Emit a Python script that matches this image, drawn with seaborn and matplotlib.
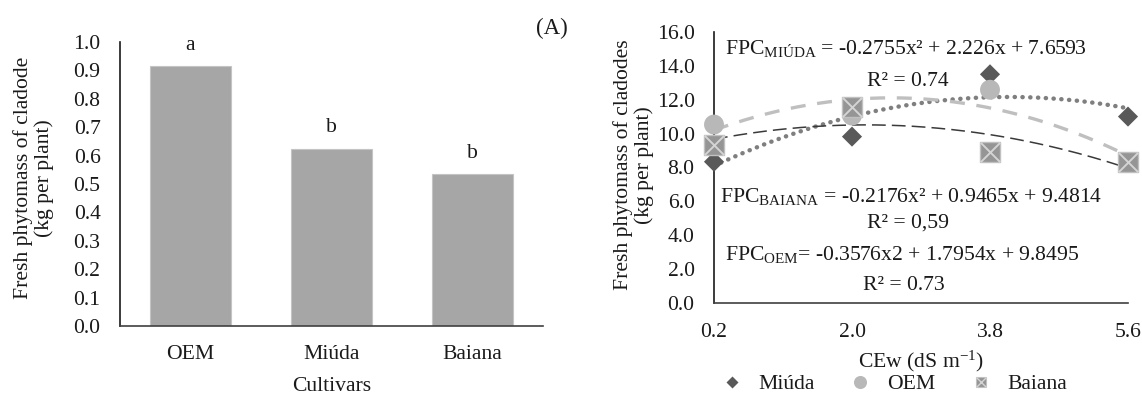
import numpy as np
import pandas as pd
import matplotlib
matplotlib.use("Agg")
import matplotlib.pyplot as plt
import seaborn as sns
from matplotlib.lines import Line2D
from matplotlib.legend_handler import HandlerTuple

# ---- data: panel 1 (bars) ----
cultivars = ["OEM", "Miúda", "Baiana"]
fresh_mass = [0.915, 0.625, 0.535]
letters = ["a", "b", "b"]

# ---- data: panel 2 (scatter + trend) ----
cew = [0.2, 2.0, 3.8, 5.6]
cew_ticks = ["0.2", "2.0", "3.8", "5.6"]
fpc_miuda = [8.34, 9.82, 13.49, 11.0]
fpc_oem = [10.53, 11.06, 12.58, 8.30]
fpc_baiana = [9.34, 11.56, 8.89, 8.30]

coef_miuda = [-0.2755, 2.226, 7.6593]
coef_baiana = [-0.2176, 0.9465, 9.4814]
coef_oem = [-0.3576, 1.7954, 9.8495]

sns.set_theme(style="white")
plt.rcParams["font.family"] = ["Liberation Serif", "DejaVu Serif"]
plt.rcParams["mathtext.fontset"] = "custom"
plt.rcParams["mathtext.rm"] = "Liberation Serif"
plt.rcParams["mathtext.it"] = "Liberation Serif:italic"
plt.rcParams["mathtext.bf"] = "Liberation Serif:bold"

FS = 15.6
TXT = "#1a1a1a"

fig = plt.figure(figsize=(11.42, 3.94), dpi=100)
W, H = 1142, 394

def px_axes(x0, x1, ytop, ybot):
    return fig.add_axes([x0 / W, (H - ybot) / H, (x1 - x0) / W, (ybot - ytop) / H])

# ---------------- left panel ----------------
ax1 = px_axes(120, 543, 42, 326)
df1 = pd.DataFrame({"cultivar": cultivars, "mass": fresh_mass})
sns.barplot(data=df1, x="cultivar", y="mass", color="#A6A6A6", saturation=1,
            width=0.574, edgecolor="#c4c4c4", linewidth=0.8, ax=ax1)
ax1.set_xlim(-0.5, 2.5)
ax1.set_ylim(0, 1.0)
ax1.set_yticks(np.arange(0, 1.01, 0.1))
ax1.set_yticklabels([f"{v:.1f}" for v in np.arange(0, 1.01, 0.1)])
for i, (v, l) in enumerate(zip(fresh_mass, letters)):
    ax1.annotate(l, (i, v), xytext=(0, 8), textcoords="offset points",
                 ha="center", va="bottom", fontsize=FS, color=TXT)
ax1.set_xlabel("Cultivars", fontsize=FS, color=TXT, labelpad=9)
ax1.set_ylabel("Fresh phytomass of cladode\n(kg per plant)", fontsize=FS,
               color=TXT, linespacing=1.1)
ax1.yaxis.set_label_coords(-0.155, 0.52)

# ---------------- right panel ----------------
ax2 = px_axes(714, 1128, 31.7, 303.3)
xs = np.linspace(cew[0], cew[-1], 200)
sns.lineplot(x=xs, y=np.polyval(coef_miuda, xs), ax=ax2, color="#7f7f7f",
             linewidth=3.2, linestyle=(0, (0.05, 1.7)), dash_capstyle="round",
             zorder=2)
sns.lineplot(x=xs, y=np.polyval(coef_oem, xs), ax=ax2, color="#bfbfbf",
             linewidth=2.4, linestyle=(0, (4.5, 3.5)), zorder=2)
sns.lineplot(x=xs, y=np.polyval(coef_baiana, xs), ax=ax2, color="#3a3a3a",
             linewidth=1.1, linestyle=(0, (9, 4)), zorder=2)

sns.scatterplot(x=cew, y=fpc_miuda, ax=ax2, marker="D", s=105, color="#595959",
                edgecolor="none", linewidth=0, clip_on=False, zorder=3)
sns.scatterplot(x=cew, y=fpc_oem, ax=ax2, marker="o", s=205, color="#b8b8b8",
                edgecolor="none", linewidth=0, clip_on=False, zorder=4)
sns.scatterplot(x=cew, y=fpc_baiana, ax=ax2, marker="s", s=200, color="#959595",
                edgecolor="#c0c0c0", linewidth=1.0, clip_on=False, zorder=5)
sns.scatterplot(x=cew, y=fpc_baiana, ax=ax2, marker="x", s=200, color="#d4d4d4",
                linewidth=1.4, clip_on=False, zorder=6)

ax2.set_xlim(cew[0], cew[-1])
ax2.set_ylim(0, 16)
ax2.set_xticks(cew)
ax2.set_xticklabels(cew_ticks)
yt = np.arange(0, 16.1, 2)
ax2.set_yticks(yt)
ax2.set_yticklabels([f"{v:.1f}" for v in yt])
ax2.set_xlabel("CEw (dS m$^{\\mathregular{-1}}$)", fontsize=FS, color=TXT, labelpad=5)
ax2.set_ylabel("Fresh phytomass of cladodes\n(kg per plant)", fontsize=FS,
               color=TXT, linespacing=1.1)
ax2.yaxis.set_label_coords(-0.145, 0.51)

eq_kw = dict(transform=ax2.transAxes, ha="center", va="center", fontsize=FS, color=TXT)
ax2.text(0.464, 0.937, "FPC$_{\\mathregular{MIÚDA}}$ = -0.2755x² + 2.226x + 7.6593", **eq_kw)
ax2.text(0.469, 0.815, "R² = 0.74", **eq_kw)
ax2.text(0.476, 0.393, "FPC$_{\\mathregular{BAIANA}}$ = -0.2176x² + 0.9465x + 9.4814", **eq_kw)
ax2.text(0.469, 0.294, "R² = 0,59", **eq_kw)
ax2.text(0.454, 0.181, "FPC$_{\\mathregular{OEM}}$= -0.3576x2 + 1.7954x + 9.8495", **eq_kw)
ax2.text(0.459, 0.064, "R² = 0.73", **eq_kw)

for ax in (ax1, ax2):
    sns.despine(ax=ax)
    ax.spines["left"].set_color("#1a1a1a")
    ax.spines["bottom"].set_color("#404040")
    ax.spines["left"].set_linewidth(1.2)
    ax.spines["bottom"].set_linewidth(1.2)
    ax.tick_params(axis="both", length=0, labelsize=FS, colors=TXT)
    ax.tick_params(axis="y", pad=14)
    ax.tick_params(axis="x", pad=14)
    ax.grid(False)

fig.text(552 / W, 1 - 28 / H, "(A)", ha="center", va="center", fontsize=16.5, color=TXT)

# legend
h_miuda = Line2D([], [], marker="D", ls="", color="#595959", ms=6.6, mec="none")
h_oem = Line2D([], [], marker="o", ls="", color="#b8b8b8", ms=9.4, mec="none")
h_b1 = Line2D([], [], marker="s", ls="", color="#959595", ms=6.8, mec="#c0c0c0", mew=0.8)
h_b2 = Line2D([], [], marker="x", ls="", color="#d4d4d4", ms=6.8, mew=1.0)
fig.legend([h_miuda, h_oem, (h_b1, h_b2)], ["Miúda", "OEM", "Baiana"],
           handler_map={tuple: HandlerTuple(ndivide=1, pad=0)},
           loc="center", bbox_to_anchor=(894 / W, 1 - 384 / H), ncol=3,
           frameon=False, fontsize=FS, handlelength=1.0, handletextpad=0.72,
           columnspacing=1.6, borderpad=0, labelcolor=TXT)

fig.savefig("out.png", dpi=100)
